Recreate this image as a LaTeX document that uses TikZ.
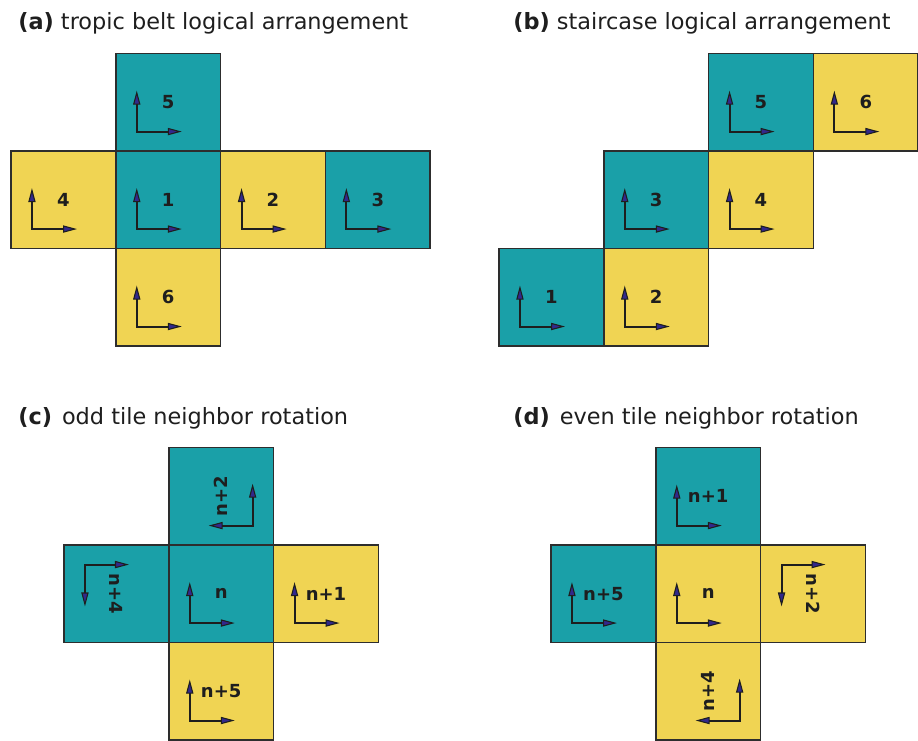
\documentclass[tikz,border=0pt]{standalone}
\usepackage{fontspec}
\setmainfont{DejaVu Sans}
\usetikzlibrary{arrows.meta}

\definecolor{tealtile}{RGB}{26,160,168}
\definecolor{yellowtile}{RGB}{240,212,83}
\definecolor{headfill}{RGB}{50,40,140}
\definecolor{ink}{RGB}{30,30,30}
\definecolor{edge}{RGB}{45,45,45}

\tikzset{
  axishead/.tip={Triangle[length=10.5pt,width=5.4pt,line width=0.8pt,fill=headfill]},
  tilebox/.style={draw=edge, line width=1.2pt, minimum width=78.6pt,
    minimum height=73.1pt, inner sep=0pt, outer sep=0pt},
  tilelabel/.style={font=\bfseries\fontsize{13.5}{16}\selectfont, text=ink, inner sep=0pt},
  axisframe/.style={draw=ink, line width=1.5pt, {axishead}-{axishead}},
  paneltitle/.style={font=\fontsize{16.8}{20}\selectfont, text=ink, anchor=base west, inner sep=0pt},
  panel/.style={x=78.6pt, y=73.1pt},
}

% #1 name, #2 column, #3 row, #4 fill, #5 label, #6 rotation (0, 90 or -90)
\newcommand\tile[6]{%
  \node[tilebox, fill=#4] (#1) at (#2+0.5,#3+0.5) {};
  \node[tilelabel, rotate=#6] (#1-l) at (#1.center) {#5};
  \ifnum#6=0\relax
    \coordinate (#1-o) at (#2+0.2,#3+0.2);
    \coordinate (#1-x) at (#2+0.63,#3+0.2);
    \coordinate (#1-y) at (#2+0.2,#3+0.62);
  \else\ifnum#6=90\relax
    \coordinate (#1-o) at (#2+0.8,#3+0.2);
    \coordinate (#1-x) at (#2+0.8,#3+0.63);
    \coordinate (#1-y) at (#2+0.38,#3+0.2);
  \else
    \coordinate (#1-o) at (#2+0.2,#3+0.8);
    \coordinate (#1-x) at (#2+0.2,#3+0.37);
    \coordinate (#1-y) at (#2+0.62,#3+0.8);
  \fi\fi
  \draw[axisframe] (#1-x) -- (#1-o) -- (#1-y);
}

\begin{document}
\begin{tikzpicture}[x=0.75pt, y=-0.75pt]
  \useasboundingbox (0,0) rectangle (918,740);

  % panel titles
  \node[paneltitle] (ta) at (18,29) {\textbf{(a)} tropic belt logical arrangement};
  \node[paneltitle] (tb) at (513,29) {\textbf{(b)} staircase logical arrangement};
  \node[paneltitle] (tc) at (18,424) {\textbf{(c)}\hspace{7.5pt}odd tile neighbor rotation};
  \node[paneltitle] (td) at (513,424) {\textbf{(d)}\hspace{7.5pt}even tile neighbor rotation};

  % (a) tropic belt
  \begin{scope}[shift={(11,346)}, panel]
    \tile{a5}{1}{2}{tealtile}{5}{0}
    \tile{a4}{0}{1}{yellowtile}{4}{0}
    \tile{a1}{1}{1}{tealtile}{1}{0}
    \tile{a2}{2}{1}{yellowtile}{2}{0}
    \tile{a3}{3}{1}{tealtile}{3}{0}
    \tile{a6}{1}{0}{yellowtile}{6}{0}
  \end{scope}

  % (b) staircase
  \begin{scope}[shift={(499,346)}, panel]
    \tile{b1}{0}{0}{tealtile}{1}{0}
    \tile{b2}{1}{0}{yellowtile}{2}{0}
    \tile{b3}{1}{1}{tealtile}{3}{0}
    \tile{b4}{2}{1}{yellowtile}{4}{0}
    \tile{b5}{2}{2}{tealtile}{5}{0}
    \tile{b6}{3}{2}{yellowtile}{6}{0}
  \end{scope}

  % (c) odd tile neighbours
  \begin{scope}[shift={(64,740)}, panel]
    \tile{c2}{1}{2}{tealtile}{n+2}{90}
    \tile{c4}{0}{1}{tealtile}{n+4}{-90}
    \tile{c0}{1}{1}{tealtile}{n}{0}
    \tile{c1}{2}{1}{yellowtile}{n+1}{0}
    \tile{c5}{1}{0}{yellowtile}{n+5}{0}
  \end{scope}

  % (d) even tile neighbours
  \begin{scope}[shift={(551,740)}, panel]
    \tile{d1}{1}{2}{tealtile}{n+1}{0}
    \tile{d5}{0}{1}{tealtile}{n+5}{0}
    \tile{d0}{1}{1}{yellowtile}{n}{0}
    \tile{d2}{2}{1}{yellowtile}{n+2}{-90}
    \tile{d4}{1}{0}{yellowtile}{n+4}{90}
  \end{scope}
\end{tikzpicture}
\end{document}
